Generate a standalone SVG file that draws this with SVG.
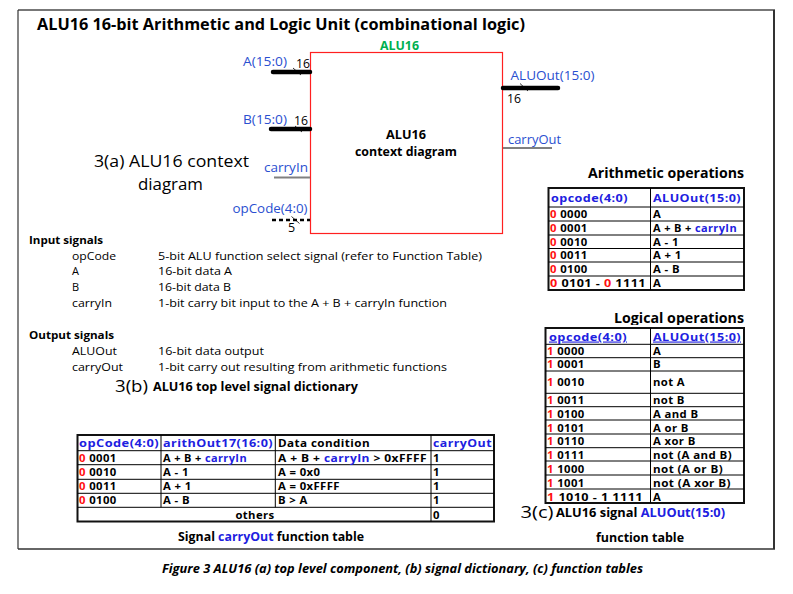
<svg xmlns="http://www.w3.org/2000/svg" width="793" height="594" viewBox="0 0 793 594">
<style>
text{font-family:"Open Sans","Liberation Sans",sans-serif;fill:#000}
.b{font-weight:bold}
.blue{fill:#2a4fd0}
.tb{fill:#2020e0}
.red{fill:#ff1010}
.lbl{font-size:12.5px}
.big{font-size:15.5px}
.dict{font-size:11px}
.tbl{font-size:11.3px;font-weight:bold;letter-spacing:0.4px}
.grid{fill:none;stroke:#000;stroke-width:1}
.outer{fill:none;stroke:#111;stroke-width:2}
.bus{stroke:#000;stroke-width:4.5;stroke-linecap:round}
.sig{stroke:#808080;stroke-width:2}
.tick{stroke:#000;stroke-width:0.8}
</style>
<rect width="793" height="594" fill="#fff"/>
<!-- outer frame -->
<g id="frame">
<line x1="18" y1="10" x2="775" y2="10" stroke="#777" stroke-width="2"/>
<line x1="18" y1="10" x2="18" y2="549" stroke="#333" stroke-width="1.2"/>
<line x1="774" y1="10" x2="774" y2="549" stroke="#333" stroke-width="2"/>
<line x1="18" y1="549" x2="775" y2="549" stroke="#333" stroke-width="1.5"/>
</g>
<text x="37" y="29.5" class="b" font-size="16" textLength="488" lengthAdjust="spacingAndGlyphs">ALU16 16-bit Arithmetic and Logic Unit (combinational logic)</text>

<!-- ALU16 block -->
<g id="alu16">
<text x="380" y="50" class="b" font-size="12" style="fill:#00b050" textLength="39" lengthAdjust="spacingAndGlyphs">ALU16</text>
<rect x="310.5" y="52.5" width="192" height="181" fill="none" stroke="#ff2020" stroke-width="1.2"/>
<text x="386" y="138.5" class="b" font-size="12" textLength="40" lengthAdjust="spacingAndGlyphs">ALU16</text>
<text x="355" y="156" class="b" font-size="12" textLength="102" lengthAdjust="spacingAndGlyphs">context diagram</text>
</g>

<g id="port-A">
<text x="243" y="66" class="lbl blue" textLength="44" lengthAdjust="spacingAndGlyphs">A(15:0)</text>
<text x="296" y="67.5" class="lbl" textLength="14" lengthAdjust="spacingAndGlyphs">16</text>
</g>
<g id="port-B">
<text x="243" y="123.5" class="lbl blue" textLength="44" lengthAdjust="spacingAndGlyphs">B(15:0)</text>
<text x="294" y="125" class="lbl" textLength="14" lengthAdjust="spacingAndGlyphs">16</text>
</g>
<g id="port-carryIn">
<text x="264" y="172" class="lbl blue" textLength="44" lengthAdjust="spacingAndGlyphs">carryIn</text>
</g>
<g id="port-opCode">
<text x="232.5" y="213" class="lbl blue" textLength="75" lengthAdjust="spacingAndGlyphs">opCode(4:0)</text>
<text x="288" y="232" class="lbl">5</text>
</g>
<g id="port-ALUOut">
<text x="510.5" y="79.5" class="lbl blue" textLength="84" lengthAdjust="spacingAndGlyphs">ALUOut(15:0)</text>
<text x="507" y="103" class="lbl" textLength="14" lengthAdjust="spacingAndGlyphs">16</text>
</g>
<g id="port-carryOut">
<text x="508" y="144" class="lbl blue" textLength="53" lengthAdjust="spacingAndGlyphs">carryOut</text>
</g>

<g id="connectors">
<line class="bus" x1="273" y1="72" x2="310" y2="72"/>
<line class="tick" x1="293" y1="68" x2="301" y2="75"/>
<line class="bus" x1="271" y1="129" x2="310" y2="129"/>
<line class="tick" x1="295" y1="126" x2="302" y2="132"/>
<line class="sig" x1="274" y1="177.5" x2="310" y2="177.5"/>
<line x1="272" y1="220" x2="310" y2="220" stroke="#000" stroke-width="2.5" stroke-dasharray="4,3"/>
<line class="tick" x1="291.5" y1="216.5" x2="299.5" y2="223.5"/>
<line class="bus" x1="503" y1="88" x2="558" y2="88"/>
<line class="tick" x1="520" y1="83.5" x2="528" y2="91"/>
<line class="sig" x1="503" y1="148" x2="552" y2="148"/>
</g>

<g id="caption-a">
<text x="94" y="167" class="big" textLength="155" lengthAdjust="spacingAndGlyphs">3(a) ALU16 context</text>
<text x="138" y="189.5" class="big" textLength="65" lengthAdjust="spacingAndGlyphs">diagram</text>
</g>

<!-- Signal dictionary -->
<g id="signal-dictionary">
<text x="29" y="243.5" class="dict b" textLength="74" lengthAdjust="spacingAndGlyphs">Input signals</text>
<text x="72" y="259.5" class="dict" textLength="44" lengthAdjust="spacingAndGlyphs">opCode</text>
<text x="158" y="259.5" class="dict" textLength="324" lengthAdjust="spacingAndGlyphs">5-bit ALU function select signal (refer to Function Table)</text>
<text x="72" y="274.5" class="dict">A</text>
<text x="158" y="274.5" class="dict" textLength="74" lengthAdjust="spacingAndGlyphs">16-bit data A</text>
<text x="72" y="290.5" class="dict">B</text>
<text x="158" y="290.5" class="dict" textLength="73" lengthAdjust="spacingAndGlyphs">16-bit data B</text>
<text x="72" y="306.5" class="dict" textLength="40" lengthAdjust="spacingAndGlyphs">carryIn</text>
<text x="158" y="306.5" class="dict" textLength="289" lengthAdjust="spacingAndGlyphs">1-bit carry bit input to the A + B + carryIn function</text>
<text x="29" y="338.5" class="dict b" textLength="85" lengthAdjust="spacingAndGlyphs">Output signals</text>
<text x="72" y="354.5" class="dict" textLength="45" lengthAdjust="spacingAndGlyphs">ALUOut</text>
<text x="158" y="354.5" class="dict" textLength="106" lengthAdjust="spacingAndGlyphs">16-bit data output</text>
<text x="72" y="370.5" class="dict" textLength="51" lengthAdjust="spacingAndGlyphs">carryOut</text>
<text x="158" y="370.5" class="dict" textLength="289" lengthAdjust="spacingAndGlyphs">1-bit carry out resulting from arithmetic functions</text>
<text x="115" y="392" class="big" textLength="33" lengthAdjust="spacingAndGlyphs">3(b)</text>
<text x="153" y="391" class="b" font-size="11.5" textLength="205" lengthAdjust="spacingAndGlyphs">ALU16 top level signal dictionary</text>
</g>

<!-- Arithmetic operations table -->
<g id="arith-table">
<text x="588" y="178" class="b" font-size="13.5" textLength="156" lengthAdjust="spacingAndGlyphs">Arithmetic operations</text>
<rect class="outer" x="548.5" y="188" width="195.5" height="102"/>
<path class="grid" d="M650.5 188V290M548.5 207H744M548.5 221H744M548.5 235H744M548.5 248.5H744M548.5 262H744M548.5 276H744"/>
<text x="551" y="202" class="tbl tb" textLength="77" lengthAdjust="spacingAndGlyphs">opcode(4:0)</text>
<text x="653" y="202" class="tbl tb" textLength="88" lengthAdjust="spacingAndGlyphs">ALUOut(15:0)</text>
<text x="550" y="218" class="tbl"><tspan class="red">0</tspan> 0000</text>
<text x="653" y="218" class="tbl">A</text>
<text x="550" y="232" class="tbl"><tspan class="red">0</tspan> 0001</text>
<text x="653" y="232" class="tbl" textLength="84" lengthAdjust="spacingAndGlyphs">A + B + <tspan class="tb">carryIn</tspan></text>
<text x="550" y="245.5" class="tbl"><tspan class="red">0</tspan> 0010</text>
<text x="653" y="245.5" class="tbl">A - 1</text>
<text x="550" y="259" class="tbl"><tspan class="red">0</tspan> 0011</text>
<text x="653" y="259" class="tbl">A + 1</text>
<text x="550" y="273" class="tbl"><tspan class="red">0</tspan> 0100</text>
<text x="653" y="273" class="tbl">A - B</text>
<text x="550" y="287" class="tbl" textLength="96" lengthAdjust="spacingAndGlyphs"><tspan class="red">0</tspan> 0101 - <tspan class="red">0</tspan> 1111</text>
<text x="653" y="287" class="tbl">A</text>
</g>

<!-- Logical operations table -->
<g id="logic-table">
<text x="614" y="323" class="b" font-size="13.5" textLength="130" lengthAdjust="spacingAndGlyphs">Logical operations</text>
<rect x="545" y="325" width="200" height="3" fill="#fff"/>
<rect class="outer" x="545.5" y="328" width="198.5" height="175"/>
<path class="grid" d="M650.5 328V503M545.5 344.3H744M545.5 357.7H744M545.5 371H744M545.5 393.3H744M545.5 406.7H744M545.5 420H744M545.5 434H744M545.5 447.7H744M545.5 461H744M545.5 475H744M545.5 489H744"/>
<text x="549" y="340.5" class="tbl tb" style="text-decoration:underline" textLength="78" lengthAdjust="spacingAndGlyphs">opcode(4:0)</text>
<text x="653" y="340.5" class="tbl tb" style="text-decoration:underline" textLength="88" lengthAdjust="spacingAndGlyphs">ALUOut(15:0)</text>
<text x="547" y="354.5" class="tbl"><tspan class="red">1</tspan> 0000</text>
<text x="653" y="354.5" class="tbl">A</text>
<text x="547" y="368" class="tbl"><tspan class="red">1</tspan> 0001</text>
<text x="653" y="368" class="tbl">B</text>
<text x="547" y="386" class="tbl"><tspan class="red">1</tspan> 0010</text>
<text x="653" y="386" class="tbl">not A</text>
<text x="547" y="403.5" class="tbl"><tspan class="red">1</tspan> 0011</text>
<text x="653" y="403.5" class="tbl">not B</text>
<text x="547" y="417.5" class="tbl"><tspan class="red">1</tspan> 0100</text>
<text x="653" y="417.5" class="tbl">A and B</text>
<text x="547" y="431.5" class="tbl"><tspan class="red">1</tspan> 0101</text>
<text x="653" y="431.5" class="tbl">A or B</text>
<text x="547" y="445" class="tbl"><tspan class="red">1</tspan> 0110</text>
<text x="653" y="445" class="tbl">A xor B</text>
<text x="547" y="458.5" class="tbl"><tspan class="red">1</tspan> 0111</text>
<text x="653" y="458.5" class="tbl" textLength="79" lengthAdjust="spacingAndGlyphs">not (A and B)</text>
<text x="547" y="472.5" class="tbl"><tspan class="red">1</tspan> 1000</text>
<text x="653" y="472.5" class="tbl" textLength="70" lengthAdjust="spacingAndGlyphs">not (A or B)</text>
<text x="547" y="486.5" class="tbl"><tspan class="red">1</tspan> 1001</text>
<text x="653" y="486.5" class="tbl" textLength="78" lengthAdjust="spacingAndGlyphs">not (A xor B)</text>
<text x="547" y="500.5" class="tbl" textLength="96" lengthAdjust="spacingAndGlyphs"><tspan class="red">1</tspan> 1010 - 1 1111</text>
<text x="653" y="500.5" class="tbl">A</text>
</g>

<g id="caption-c">
<text x="520.5" y="517.5" class="big" textLength="33" lengthAdjust="spacingAndGlyphs">3(c)</text>
<text x="556" y="517" class="b" font-size="11.5" textLength="169" lengthAdjust="spacingAndGlyphs">ALU16 signal <tspan class="tb">ALUOut(15:0)</tspan></text>
<text x="596" y="542" class="b" font-size="11.5" textLength="88" lengthAdjust="spacingAndGlyphs">function table</text>
</g>

<!-- carryOut function table -->
<g id="carryout-table">
<rect class="outer" x="77.5" y="435" width="416.5" height="86.5"/>
<path class="grid" d="M161 435V507.3M275.3 435V507.3M431 435V521.5M77.5 450.7H494M77.5 464.7H494M77.5 479.3H494M77.5 493.3H494M77.5 507.3H494"/>
<text x="79" y="447" class="tbl tb" textLength="80" lengthAdjust="spacingAndGlyphs">opCode(4:0)</text>
<text x="163" y="447" class="tbl tb" textLength="110" lengthAdjust="spacingAndGlyphs">arithOut17(16:0)</text>
<text x="278" y="447" class="tbl" textLength="92" lengthAdjust="spacingAndGlyphs">Data condition</text>
<text x="433" y="447" class="tbl tb" textLength="59" lengthAdjust="spacingAndGlyphs">carryOut</text>
<text x="79" y="462" class="tbl"><tspan class="red">0</tspan> 0001</text>
<text x="163" y="462" class="tbl" textLength="84" lengthAdjust="spacingAndGlyphs">A + B + <tspan class="tb">carryIn</tspan></text>
<text x="278" y="462" class="tbl" textLength="149" lengthAdjust="spacingAndGlyphs">A + B + <tspan class="tb">carryIn</tspan> &gt; 0xFFFF</text>
<text x="433" y="462" class="tbl">1</text>
<text x="79" y="476" class="tbl"><tspan class="red">0</tspan> 0010</text>
<text x="163" y="476" class="tbl">A - 1</text>
<text x="278" y="476" class="tbl">A = 0x0</text>
<text x="433" y="476" class="tbl">1</text>
<text x="79" y="490" class="tbl"><tspan class="red">0</tspan> 0011</text>
<text x="163" y="490" class="tbl">A + 1</text>
<text x="278" y="490" class="tbl">A = 0xFFFF</text>
<text x="433" y="490" class="tbl">1</text>
<text x="79" y="504" class="tbl"><tspan class="red">0</tspan> 0100</text>
<text x="163" y="504" class="tbl">A - B</text>
<text x="278" y="504" class="tbl">B &gt; A</text>
<text x="433" y="504" class="tbl">1</text>
<text x="255" y="518.5" class="tbl" text-anchor="middle">others</text>
<text x="433" y="518.5" class="tbl">0</text>
<text x="178" y="541" class="b" font-size="11.5" textLength="186" lengthAdjust="spacingAndGlyphs">Signal <tspan class="tb">carryOut</tspan> function table</text>
</g>

<text x="162" y="573" class="b" font-size="12" font-style="italic" textLength="481" lengthAdjust="spacingAndGlyphs">Figure 3 ALU16 (a) top level component, (b) signal dictionary, (c) function tables</text>
</svg>
